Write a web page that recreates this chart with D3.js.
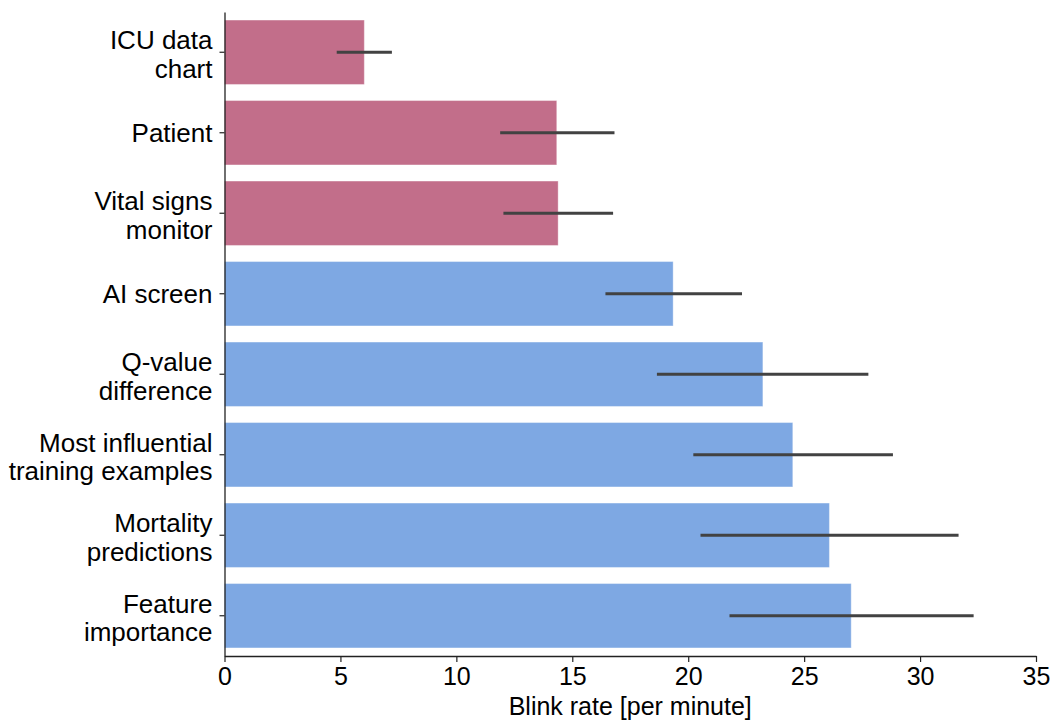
<!DOCTYPE html>
<html>
<head>
<meta charset="utf-8">
<script src="https://cdn.jsdelivr.net/npm/d3@7"></script>
<style>
  html, body { margin: 0; padding: 0; background: #ffffff; }
  svg { display: block; }
  text { font-family: "Liberation Sans", Arial, sans-serif; fill: #000; }
</style>
</head>
<body>
<svg id="chart" width="1053" height="721"></svg>
<script>
// Information sources viewed during the task
const categories = [
  "ICU data\nchart",
  "Patient",
  "Vital signs\nmonitor",
  "AI screen",
  "Q-value\ndifference",
  "Most influential\ntraining examples",
  "Mortality\npredictions",
  "Feature\nimportance"
];
// Mean blink rate per minute and confidence interval bounds
const blinkRate = [6.03, 14.33, 14.39, 19.35, 23.22, 24.51, 26.09, 27.03];
const ciLow     = [4.84, 11.89, 12.03, 16.43, 18.65, 20.22, 20.53, 21.78];
const ciHigh    = [7.22, 16.82, 16.76, 22.32, 27.77, 28.83, 31.66, 32.31];
// Group of each source: environment vs. AI interface
const group = ["env", "env", "env", "ai", "ai", "ai", "ai", "ai"];
const xTicks = [0, 5, 10, 15, 20, 25, 30, 35];
const xLabel = "Blink rate [per minute]";

const colors = { env: "#c26e8a", ai: "#7ea8e3" };
const tickFont = 25;
const catFont = 26;
const lineH = 28.5;

const svg = d3.select("#chart");
const plot = { left: 224.5, right: 1036, top: 12, bottom: 656 };

const x = d3.scaleLinear().domain([0, 35]).range([plot.left, plot.right]);
const y = d3.scaleBand().domain(categories).range([plot.top, plot.bottom])
  .paddingInner(0.2).paddingOuter(0.1);

const data = categories.map((c, i) => ({
  cat: c, v: blinkRate[i], lo: ciLow[i], hi: ciHigh[i], g: group[i]
}));

// Bars
svg.append("g").selectAll("rect").data(data).join("rect")
  .attr("x", x(0))
  .attr("y", d => y(d.cat))
  .attr("width", d => x(d.v) - x(0))
  .attr("height", y.bandwidth())
  .attr("fill", d => colors[d.g])
  .attr("stroke", "#ffffff")
  .attr("stroke-opacity", 0.35)
  .attr("stroke-width", 1);

// Confidence interval lines
svg.append("g").selectAll("line").data(data).join("line")
  .attr("x1", d => x(d.lo))
  .attr("x2", d => x(d.hi))
  .attr("y1", d => y(d.cat) + y.bandwidth() / 2)
  .attr("y2", d => y(d.cat) + y.bandwidth() / 2)
  .attr("stroke", "#424242")
  .attr("stroke-width", 3);

// X axis
const xAxis = svg.append("g")
  .attr("transform", `translate(0,${plot.bottom})`)
  .call(d3.axisBottom(x).tickValues(xTicks).tickSize(6).tickPadding(5).tickSizeOuter(0));
xAxis.select(".domain").attr("stroke", "#222").attr("stroke-width", 1.3);
xAxis.selectAll(".tick line").attr("stroke", "#222").attr("stroke-width", 1.2);
xAxis.selectAll(".tick text")
  .attr("font-size", tickFont)
  .attr("font-family", "'Liberation Sans', Arial, sans-serif")
  .attr("fill", "#000");

// Y axis
const yAxis = svg.append("g")
  .attr("transform", `translate(${plot.left},0)`)
  .call(d3.axisLeft(y).tickSize(5).tickPadding(7).tickSizeOuter(0).tickFormat(() => ""));
yAxis.select(".domain").attr("stroke", "#222").attr("stroke-width", 1.3);
yAxis.selectAll(".tick line").attr("stroke", "#222").attr("stroke-width", 1.2);

// Multi-line category labels, centred on each tick
yAxis.selectAll(".tick").each(function(d) {
  const lines = d.split("\n");
  const t = d3.select(this).select("text")
    .attr("font-size", catFont)
    .attr("font-family", "'Liberation Sans', Arial, sans-serif")
    .attr("fill", "#000")
    .attr("x", -12)
    .attr("dy", null)
    .attr("text-anchor", "end");
  const shift = lines.length > 1 ? 11 : 9.5;
  const firstBaseline = -((lines.length - 1) * lineH) / 2 + shift;
  lines.forEach((ln, i) => {
    t.append("tspan")
      .attr("x", -12)
      .attr("y", firstBaseline + i * lineH)
      .text(ln);
  });
});

// X axis title
svg.append("text")
  .attr("x", (plot.left + plot.right) / 2)
  .attr("y", 715)
  .attr("text-anchor", "middle")
  .attr("font-size", 25)
  .text(xLabel);
</script>
</body>
</html>
